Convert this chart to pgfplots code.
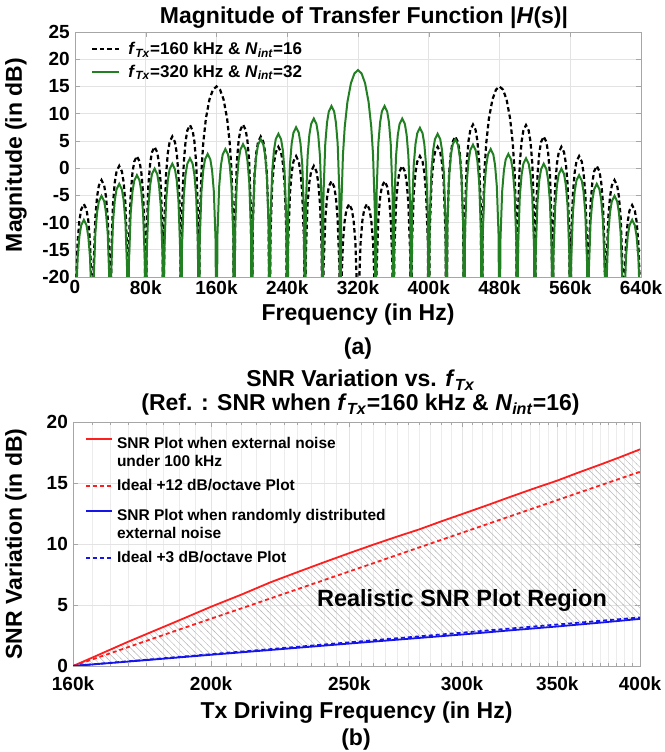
\documentclass[border=0pt]{standalone}
\usepackage{fontspec}
\setmainfont{Liberation Sans}
\usepackage{pgfplots}
\usepackage{pgfplotstable}
\pgfplotsset{compat=1.18}
\usetikzlibrary{patterns}
\pgfdeclarepatternformonly{hatchNW}{\pgfpoint{-1bp}{-1bp}}{\pgfpoint{7.7bp}{7.7bp}}{\pgfpoint{6.7bp}{6.7bp}}{%
  \pgfsetlinewidth{0.45bp}%
  \pgfpathmoveto{\pgfpoint{-0.5bp}{7.2bp}}%
  \pgfpathlineto{\pgfpoint{7.2bp}{-0.5bp}}%
  \pgfusepath{stroke}}
\definecolor{mygreen}{RGB}{34,128,34}
\definecolor{myred}{RGB}{255,30,30}
\definecolor{myblue}{RGB}{20,20,235}
\newcommand\tickfont{\fontsize{19bp}{20bp}\selectfont\bfseries}
\newcommand\labfont{\fontsize{23bp}{24bp}\selectfont\bfseries}
\newcommand\FTx{\textit{f}\textsubscript{\textit{Tx}}}
\newcommand\Nint{\textit{N}\textsubscript{\textit{int}}}
\pgfplotsset{twoline legend/.style={legend image code/.code={\draw[##1] (0bp,9bp) -- (26bp,9bp); \path (28bp,0bp);}},
  twoline legend b/.style={legend image code/.code={\draw[##1] (0bp,13.5bp) -- (26bp,13.5bp); \path (28bp,0bp);}}}

\pgfplotstableread{
x y
160 0
165 0.68
170 1.35
175 2.0
180 2.6
190 3.75
200 4.86
210 5.85
220 6.85
230 7.7
240 8.5
250 9.25
260 9.95
270 10.6
280 11.2
290 11.85
300 12.45
312 13.15
325 13.9
337 14.55
350 15.2
362 15.85
375 16.5
387 17.1
400 17.76
}\redsolid
\pgfplotstableread{
x y
160 0
170 1.05
180 2.05
190 2.99
200 3.88
210 4.72
220 5.53
230 6.30
240 7.04
250 7.75
260 8.43
270 9.09
280 9.72
290 10.33
300 10.92
325 12.31
350 13.60
375 14.80
400 15.92
}\reddash
\pgfplotstableread{
x y
160 0
180 0.48
200 0.92
220 1.31
240 1.67
260 2.0
280 2.3
300 2.58
325 2.93
350 3.24
375 3.55
400 3.86
}\bluesolid
\pgfplotstableread{
x y
160 0
180 0.51
200 0.97
220 1.38
240 1.76
260 2.11
280 2.43
300 2.73
325 3.08
350 3.40
375 3.70
400 3.98
}\bluedash
% region between the two solid curves: red forward, blue backward
\pgfplotstableread{
x y
160 0
165 0.68
170 1.35
175 2.0
180 2.6
190 3.75
200 4.86
210 5.85
220 6.85
230 7.7
240 8.5
250 9.25
260 9.95
270 10.6
280 11.2
290 11.85
300 12.45
312 13.15
325 13.9
337 14.55
350 15.2
362 15.85
375 16.5
387 17.1
400 17.76
400 3.86
375 3.55
350 3.24
325 2.93
300 2.58
280 2.3
260 2.0
240 1.67
220 1.31
200 0.92
180 0.48
160 0
}\region

\begin{document}
\begin{tikzpicture}[x=1bp,y=1bp]
\useasboundingbox (0,0) rectangle (665,752);
% ---------------- (a) ----------------
\begin{axis}[
  at={(75bp,475bp)}, anchor=south west, scale only axis,
  width=566bp, height=245bp,
  xmin=0, xmax=640, ymin=-20, ymax=25,
  xtick={0,80,160,240,320,400,480,560,640},
  xticklabels={0,80k,160k,240k,320k,400k,480k,560k,640k},
  ytick={-20,-15,-10,-5,0,5,10,15,20,25},
  yticklabels={-20,-15,-10,-5,0,5,10,15,20,25},
  tick label style={font=\tickfont, inner sep=2bp},
  xticklabel style={yshift=-1.5bp},
  yticklabel style={xshift=-3bp},
  tick align=inside, major tick length=5bp,
  grid=major, grid style={gray!22, line width=0.6bp},
  axis line style={gray!70, line width=0.8bp},
  every tick/.style={gray!70},
  title={Magnitude of Transfer Function |\textit{H}(s)|},
  title style={font=\labfont, at={(axis description cs:0.5,1)}, anchor=center, yshift=8bp, xshift=6bp},
  xlabel={Frequency (in Hz)},
  xlabel style={font=\labfont, at={(axis description cs:0.5,0)}, anchor=center, yshift=-38bp},
  legend style={draw=none, fill=none, at={(axis description cs:0,1)}, anchor=north west,
    xshift=13bp, yshift=-6bp, font=\fontsize{17bp}{19bp}\selectfont\bfseries, row sep=5bp,
    cells={anchor=west}},
  legend image code/.code={\draw[#1] (0bp,0bp) -- (27bp,0bp); \path (33bp,0bp);},
]
\addplot[black, line width=2.2bp, dash pattern=on 4.5bp off 3bp] table {
0 -45
1 -22.7
3 -13.5
5 -9.6
7 -7.6
10 -6.6
13 -7.6
15 -9.6
17 -13.5
19 -22.7
20 -45
21 -18.3
23 -9.1
25 -5.2
27 -3.2
30 -2.2
33 -3.2
35 -5.2
37 -9.1
39 -18.3
40 -45
41 -15.7
43 -6.5
45 -2.6
47 -0.6
50 0.4
53 -0.6
55 -2.6
57 -6.5
59 -15.7
60 -45
61 -13.9
63 -4.7
65 -0.8
67 1.2
70 2.2
73 1.2
75 -0.8
77 -4.7
79 -13.9
80 -45
81 -12.2
83 -3.0
85 0.9
87 2.9
90 3.9
93 2.9
95 0.9
97 -3.0
99 -12.2
100 -45
101 -10.3
103 -1.1
105 2.8
107 4.8
110 5.8
113 4.8
115 2.8
117 -1.1
119 -10.3
120 -45
121 -8.2
123 1.0
125 4.9
127 6.9
130 7.9
133 6.9
135 4.9
137 1.0
139 -8.2
140 -45
141 -10.7
143 -0.5
145 4.55
148 9.1
152 12.6
156 14.4
160 15
164 14.4
168 12.6
172 9.1
175 4.55
177 -0.5
179 -10.7
180 -45
181 -8.1
183 1.1
185 5.0
187 7.0
190 8.0
193 7.0
195 5.0
197 1.1
199 -8.1
200 -45
201 -10.3
203 -1.1
205 2.8
207 4.8
210 5.8
213 4.8
215 2.8
217 -1.1
219 -10.3
220 -45
221 -12.2
223 -3.0
225 0.9
227 2.9
230 3.9
233 2.9
235 0.9
237 -3.0
239 -12.2
240 -45
241 -13.9
243 -4.7
245 -0.8
247 1.2
250 2.2
253 1.2
255 -0.8
257 -4.7
259 -13.9
260 -45
261 -15.7
263 -6.5
265 -2.6
267 -0.6
270 0.4
273 -0.6
275 -2.6
277 -6.5
279 -15.7
280 -45
281 -18.5
283 -9.3
285 -5.4
287 -3.4
290 -2.4
293 -3.4
295 -5.4
297 -9.3
299 -18.5
300 -45
301 -22.7
303 -13.5
305 -9.6
307 -7.6
310 -6.6
313 -7.6
315 -9.6
317 -13.5
319 -22.7
320 -45
321 -22.7
323 -13.5
325 -9.6
327 -7.6
330 -6.6
333 -7.6
335 -9.6
337 -13.5
339 -22.7
340 -45
341 -18.5
343 -9.3
345 -5.4
347 -3.4
350 -2.4
353 -3.4
355 -5.4
357 -9.3
359 -18.5
360 -45
361 -15.7
363 -6.5
365 -2.6
367 -0.6
370 0.4
373 -0.6
375 -2.6
377 -6.5
379 -15.7
380 -45
381 -13.9
383 -4.7
385 -0.8
387 1.2
390 2.2
393 1.2
395 -0.8
397 -4.7
399 -13.9
400 -45
401 -12.2
403 -3.0
405 0.9
407 2.9
410 3.9
413 2.9
415 0.9
417 -3.0
419 -12.2
420 -45
421 -10.3
423 -1.1
425 2.8
427 4.8
430 5.8
433 4.8
435 2.8
437 -1.1
439 -10.3
440 -45
441 -8.1
443 1.1
445 5.0
447 7.0
450 8.0
453 7.0
455 5.0
457 1.1
459 -8.1
460 -45
461 -10.7
463 -0.5
465 4.55
468 9.1
472 12.6
476 14.4
480 15
484 14.4
488 12.6
492 9.1
495 4.55
497 -0.5
499 -10.7
500 -45
501 -8.2
503 1.0
505 4.9
507 6.9
510 7.9
513 6.9
515 4.9
517 1.0
519 -8.2
520 -45
521 -10.3
523 -1.1
525 2.8
527 4.8
530 5.8
533 4.8
535 2.8
537 -1.1
539 -10.3
540 -45
541 -12.2
543 -3.0
545 0.9
547 2.9
550 3.9
553 2.9
555 0.9
557 -3.0
559 -12.2
560 -45
561 -13.9
563 -4.7
565 -0.8
567 1.2
570 2.2
573 1.2
575 -0.8
577 -4.7
579 -13.9
580 -45
581 -15.7
583 -6.5
585 -2.6
587 -0.6
590 0.4
593 -0.6
595 -2.6
597 -6.5
599 -15.7
600 -45
601 -18.3
603 -9.1
605 -5.2
607 -3.2
610 -2.2
613 -3.2
615 -5.2
617 -9.1
619 -18.3
620 -45
621 -22.9
623 -13.7
625 -9.8
627 -7.8
630 -6.8
633 -7.8
635 -9.8
637 -13.7
639 -22.9
640 -45
};
\addlegendentry{\FTx=160 kHz \& \Nint=16}
\addplot[mygreen, line width=2bp] table {
0 -45
1 -25.6
3 -16.4
5 -12.5
7 -10.5
10 -9.5
13 -10.5
15 -12.5
17 -16.4
19 -25.6
20 -45
21 -21.2
23 -12.0
25 -8.1
27 -6.1
30 -5.1
33 -6.1
35 -8.1
37 -12.0
39 -21.2
40 -45
41 -19.0
43 -9.8
45 -5.9
47 -3.9
50 -2.9
53 -3.9
55 -5.9
57 -9.8
59 -19.0
60 -45
61 -17.4
63 -8.2
65 -4.3
67 -2.3
70 -1.3
73 -2.3
75 -4.3
77 -8.2
79 -17.4
80 -45
81 -16.2
83 -7.0
85 -3.1
87 -1.1
90 -0.1
93 -1.1
95 -3.1
97 -7.0
99 -16.2
100 -45
101 -15.3
103 -6.1
105 -2.2
107 -0.2
110 0.8
113 -0.2
115 -2.2
117 -6.1
119 -15.3
120 -45
121 -14.3
123 -5.1
125 -1.2
127 0.8
130 1.8
133 0.8
135 -1.2
137 -5.1
139 -14.3
140 -45
141 -13.5
143 -4.3
145 -0.4
147 1.6
150 2.6
153 1.6
155 -0.4
157 -4.3
159 -13.5
160 -45
161 -12.6
163 -3.4
165 0.5
167 2.5
170 3.5
173 2.5
175 0.5
177 -3.4
179 -12.6
180 -45
181 -11.7
183 -2.5
185 1.4
187 3.4
190 4.4
193 3.4
195 1.4
197 -2.5
199 -11.7
200 -45
201 -10.8
203 -1.6
205 2.3
207 4.3
210 5.3
213 4.3
215 2.3
217 -1.6
219 -10.8
220 -45
221 -9.8
223 -0.6
225 3.3
227 5.3
230 6.3
233 5.3
235 3.3
237 -0.6
239 -9.8
240 -45
241 -8.6
243 0.6
245 4.5
247 6.5
250 7.5
253 6.5
255 4.5
257 0.6
259 -8.6
260 -45
261 -7.0
263 2.2
265 6.1
267 8.1
270 9.1
273 8.1
275 6.1
277 2.2
279 -7.0
280 -45
281 -4.7
283 4.5
285 8.4
287 10.4
290 11.4
293 10.4
295 8.4
297 4.5
299 -4.7
300 -45
301 -7.7
303 2.5
305 7.55
308 12.1
312 15.6
316 17.4
320 18
324 17.4
328 15.6
332 12.1
335 7.55
337 2.5
339 -7.7
340 -45
341 -4.7
343 4.5
345 8.4
347 10.4
350 11.4
353 10.4
355 8.4
357 4.5
359 -4.7
360 -45
361 -7.0
363 2.2
365 6.1
367 8.1
370 9.1
373 8.1
375 6.1
377 2.2
379 -7.0
380 -45
381 -8.7
383 0.5
385 4.4
387 6.4
390 7.4
393 6.4
395 4.4
397 0.5
399 -8.7
400 -45
401 -9.8
403 -0.6
405 3.3
407 5.3
410 6.3
413 5.3
415 3.3
417 -0.6
419 -9.8
420 -45
421 -10.8
423 -1.6
425 2.3
427 4.3
430 5.3
433 4.3
435 2.3
437 -1.6
439 -10.8
440 -45
441 -11.8
443 -2.6
445 1.3
447 3.3
450 4.3
453 3.3
455 1.3
457 -2.6
459 -11.8
460 -45
461 -12.6
463 -3.4
465 0.5
467 2.5
470 3.5
473 2.5
475 0.5
477 -3.4
479 -12.6
480 -45
481 -13.5
483 -4.3
485 -0.4
487 1.6
490 2.6
493 1.6
495 -0.4
497 -4.3
499 -13.5
500 -45
501 -14.3
503 -5.1
505 -1.2
507 0.8
510 1.8
513 0.8
515 -1.2
517 -5.1
519 -14.3
520 -45
521 -15.3
523 -6.1
525 -2.2
527 -0.2
530 0.8
533 -0.2
535 -2.2
537 -6.1
539 -15.3
540 -45
541 -16.2
543 -7.0
545 -3.1
547 -1.1
550 -0.1
553 -1.1
555 -3.1
557 -7.0
559 -16.2
560 -45
561 -17.4
563 -8.2
565 -4.3
567 -2.3
570 -1.3
573 -2.3
575 -4.3
577 -8.2
579 -17.4
580 -45
581 -19.0
583 -9.8
585 -5.9
587 -3.9
590 -2.9
593 -3.9
595 -5.9
597 -9.8
599 -19.0
600 -45
601 -21.2
603 -12.0
605 -8.1
607 -6.1
610 -5.1
613 -6.1
615 -8.1
617 -12.0
619 -21.2
620 -45
621 -25.6
623 -16.4
625 -12.5
627 -10.5
630 -9.5
633 -10.5
635 -12.5
637 -16.4
639 -25.6
640 -45
};
\addlegendentry{\FTx=320 kHz \& \Nint=32}
\end{axis}
\node[font=\labfont, rotate=90] at (16,597) {Magnitude (in dB)};
\node[font=\labfont] at (358,403) {(a)};

% ---------------- (b) ----------------
\begin{axis}[
  at={(73bp,86bp)}, anchor=south west, scale only axis,
  width=567bp, height=244bp,
  xmode=log, xmin=160, xmax=400, ymin=0, ymax=20,
  xtick={160,200,250,300,350,400},
  xticklabels={160k,200k,250k,300k,350k,400k},
  minor xtick={165,170,175,180,185,190,195,205,210,215,220,225,230,235,240,245,255,260,265,270,275,280,285,290,295,305,310,315,320,325,330,335,340,345,355,360,365,370,375,380,385,390,395},
  ytick={0,5,10,15,20},
  yticklabels={0,5,10,15,20},
  tick label style={font=\tickfont, inner sep=2bp},
  xticklabel style={yshift=-9bp},
  yticklabel style={xshift=-3bp},
  tick align=inside, major tick length=5bp, minor tick length=3bp,
  grid=both, major grid style={gray!22, line width=0.6bp}, minor grid style={gray!15, line width=0.5bp},
  axis line style={gray!70, line width=0.8bp},
  every tick/.style={gray!70},
  title={SNR Variation vs. \FTx\\(Ref. : SNR when \FTx=160 kHz \& \Nint=16)},
  title style={font=\labfont, align=center, at={(axis description cs:0.5,1)}, anchor=center, yshift=23bp, xshift=4bp},
  xlabel={Tx Driving Frequency (in Hz)},
  xlabel style={font=\labfont, at={(axis description cs:0.5,0)}, anchor=center, yshift=-47bp},
  legend style={draw=none, fill=none, at={(axis description cs:0,1)}, anchor=north west,
    xshift=9bp, yshift=-10bp, font=\fontsize{15.5bp}{18bp}\selectfont\bfseries, row sep=16bp,
    cells={anchor=west}},
  legend image code/.code={\draw[#1] (0bp,0bp) -- (26bp,0bp); \path (28bp,0bp);},
]
\addplot[draw=none, pattern=hatchNW, pattern color=gray!55, forget plot] table[x=x,y=y] {\region} \closedcycle;
\addplot[myred, line width=1.8bp, twoline legend] table[x=x,y=y] {\redsolid};
\addlegendentry{\begin{tabular}{@{}l@{}}SNR Plot when external noise\\under 100 kHz\end{tabular}}
\addplot[myred, line width=1.8bp, dash pattern=on 4bp off 3bp] table[x=x,y=y] {\reddash};
\addlegendentry{Ideal +12 dB/octave Plot}
\addplot[myblue, line width=1.8bp, twoline legend b] table[x=x,y=y] {\bluesolid};
\addlegendentry{\raisebox{0pt}[\dimexpr\height-9bp\relax][\depth]{\begin{tabular}{@{}l@{}}SNR Plot when randomly distributed\\external noise\end{tabular}}}
\addplot[myblue, line width=1.8bp, dash pattern=on 4bp off 3bp] table[x=x,y=y] {\bluedash};
\addlegendentry{Ideal +3 dB/octave Plot}
\node[font=\fontsize{23.5bp}{26bp}\selectfont\bfseries] at (axis cs:300,5.4) {Realistic SNR Plot Region};
\end{axis}
\node[font=\labfont, rotate=90] at (16,208) {SNR Variation (in dB)};
\node[font=\labfont] at (356,12) {(b)};
\end{tikzpicture}
\end{document}
